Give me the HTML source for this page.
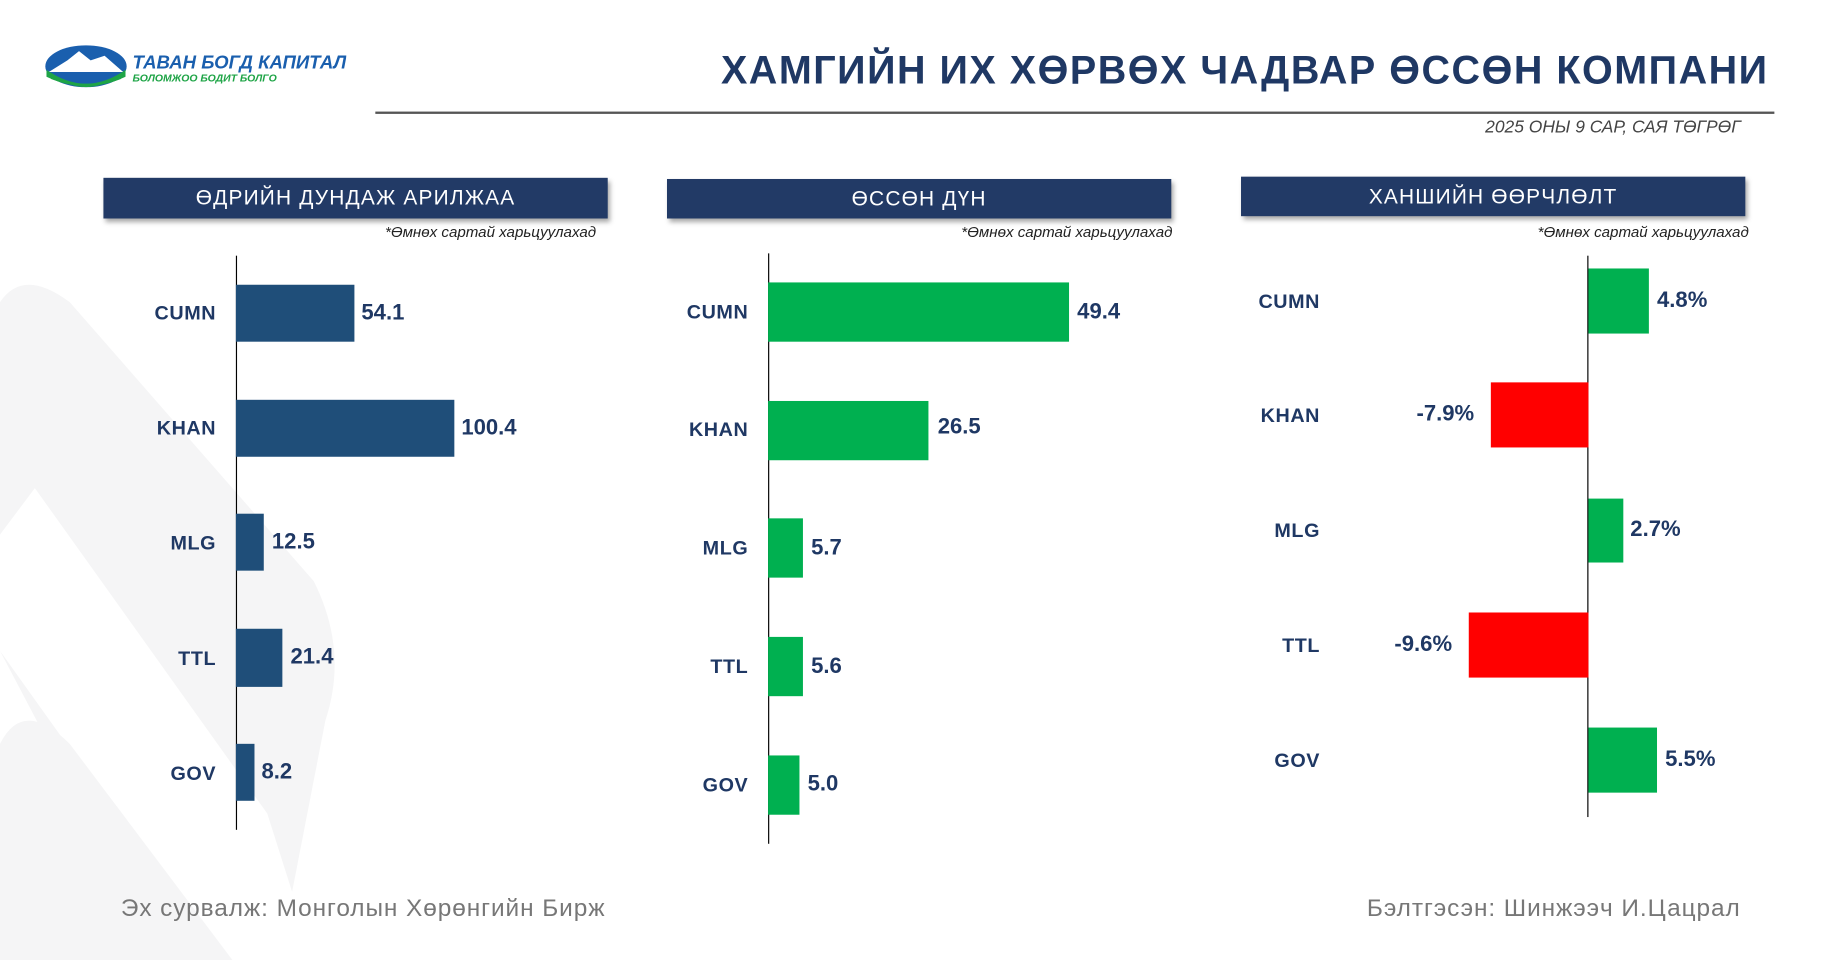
<!DOCTYPE html>
<html><head><meta charset="utf-8"><style>
html,body{margin:0;padding:0;width:1822px;height:960px;overflow:hidden;background:#fff}
#s{position:absolute;left:0;top:0;width:1568px;height:826px;transform:scale(1.1620,1.16223);transform-origin:0 0;font-family:"Liberation Sans","DejaVu Sans",sans-serif}
.a{position:absolute}
.hdr{position:absolute;background:#223a66;color:#fff;font-size:18px;text-align:center;box-shadow:2px 3px 4px rgba(0,0,0,.35);letter-spacing:1px}
.fn{position:absolute;font-size:13px;font-style:italic;color:#222;text-align:right;width:300px}
.lab{position:absolute;font-size:17px;font-weight:bold;color:#1f3864;text-align:right;width:100px;letter-spacing:.5px}
.val{position:absolute;font-size:19px;font-weight:bold;color:#1f3864}
.ax{position:absolute;width:1px;background:#000}
.b{position:absolute;background:#1f4e79}
.g{position:absolute;background:#00b050}
.r{position:absolute;background:#ff0000}
</style></head><body><div id="s">
<svg class="a" style="left:0;top:0" width="1568" height="826">
<path d="M0 260 Q20 230 60 260 L270 500 Q300 560 280 620 L240 826 L140 826 L0 560Z" fill="#f5f5f6"/>
<path d="M0 460 L30 420 L230 700 L270 826 L190 826 L0 560Z" fill="#fff"/>
<path d="M0 640 Q20 600 60 640 L200 826 L0 826Z" fill="#f5f5f6"/>
</svg>
<svg class="a" style="left:38px;top:38px" width="260" height="40">
<ellipse cx="36" cy="19" rx="35" ry="18" fill="#1a5fae"/>
<path d="M3 24 Q36 50 69 24 L66 30 Q36 42 6 30Z" fill="#1ea446"/>
<path d="M2 22 Q36 46 70 22 L70 28 Q36 44 2 28Z" fill="#1ea446"/>
<path d="M4 24 L20 14 L30 6 L40 14 L52 10 L68 24Z" fill="#fff"/>
<text x="76" y="21" font-size="16" font-weight="bold" font-style="italic" fill="#1a5fae" font-family="Liberation Sans">ТАВАН БОГД КАПИТАЛ</text>
<text x="76" y="32" font-size="9" font-weight="bold" font-style="italic" fill="#1ea446" font-family="Liberation Sans">БОЛОМЖОО БОДИТ БОЛГО</text>
</svg>
<div class="a" style="right:46px;top:42px;font-size:34px;font-weight:bold;color:#1f3864;letter-spacing:1.3px;white-space:nowrap">ХАМГИЙН ИХ ХӨРВӨХ ЧАДВАР ӨССӨН КОМПАНИ</div>
<div class="a" style="left:323px;top:96px;width:1204px;height:2px;background:#555"></div>
<div class="a" style="right:70px;top:101px;font-size:15px;font-style:italic;color:#444">2025 ОНЫ 9 САР, САЯ ТӨГРӨГ</div>

<div class="hdr" style="left:89px;top:153px;width:434px;height:35px;line-height:35px">ӨДРИЙН ДУНДАЖ АРИЛЖАА</div>
<div class="hdr" style="left:574px;top:154px;width:434px;height:34px;line-height:34px">ӨССӨН ДҮН</div>
<div class="hdr" style="left:1068px;top:152px;width:434px;height:34px;line-height:34px">ХАНШИЙН ӨӨРЧЛӨЛТ</div>
<div class="fn" style="left:213px;top:192px">*Өмнөх сартай харьцуулахад</div>
<div class="fn" style="left:709px;top:192px">*Өмнөх сартай харьцуулахад</div>
<div class="fn" style="left:1205px;top:192px">*Өмнөх сартай харьцуулахад</div>

<!-- chart1 -->
<div class="ax" style="left:203px;top:220px;height:494px"></div>
<div class="b" style="left:203px;top:245px;width:102px;height:49px"></div>
<div class="b" style="left:203px;top:344px;width:188px;height:49px"></div>
<div class="b" style="left:203px;top:442px;width:24px;height:49px"></div>
<div class="b" style="left:203px;top:541px;width:40px;height:50px"></div>
<div class="b" style="left:203px;top:640px;width:16px;height:49px"></div>
<div class="lab" style="left:86px;top:260px">CUMN</div>
<div class="lab" style="left:86px;top:359px">KHAN</div>
<div class="lab" style="left:86px;top:458px">MLG</div>
<div class="lab" style="left:86px;top:557px">TTL</div>
<div class="lab" style="left:86px;top:656px">GOV</div>
<div class="val" style="left:311px;top:259px">54.1</div>
<div class="val" style="left:397px;top:358px">100.4</div>
<div class="val" style="left:234px;top:456px">12.5</div>
<div class="val" style="left:250px;top:555px">21.4</div>
<div class="val" style="left:225px;top:654px">8.2</div>

<!-- chart2 -->
<div class="ax" style="left:661px;top:218px;height:508px"></div>
<div class="g" style="left:661px;top:243px;width:259px;height:51px"></div>
<div class="g" style="left:661px;top:345px;width:138px;height:51px"></div>
<div class="g" style="left:661px;top:446px;width:30px;height:51px"></div>
<div class="g" style="left:661px;top:548px;width:30px;height:51px"></div>
<div class="g" style="left:661px;top:650px;width:27px;height:51px"></div>
<div class="lab" style="left:544px;top:259px">CUMN</div>
<div class="lab" style="left:544px;top:360px">KHAN</div>
<div class="lab" style="left:544px;top:462px">MLG</div>
<div class="lab" style="left:544px;top:564px">TTL</div>
<div class="lab" style="left:544px;top:666px">GOV</div>
<div class="val" style="left:927px;top:258px">49.4</div>
<div class="val" style="left:807px;top:357px">26.5</div>
<div class="val" style="left:698px;top:461px">5.7</div>
<div class="val" style="left:698px;top:563px">5.6</div>
<div class="val" style="left:695px;top:664px">5.0</div>

<!-- chart3 -->
<div class="ax" style="left:1366px;top:220px;height:483px"></div>
<div class="g" style="left:1367px;top:231px;width:52px;height:56px"></div>
<div class="r" style="left:1283px;top:329px;width:84px;height:56px"></div>
<div class="g" style="left:1367px;top:429px;width:30px;height:55px"></div>
<div class="r" style="left:1264px;top:527px;width:103px;height:56px"></div>
<div class="g" style="left:1367px;top:626px;width:59px;height:56px"></div>
<div class="lab" style="left:1036px;top:250px">CUMN</div>
<div class="lab" style="left:1036px;top:348px">KHAN</div>
<div class="lab" style="left:1036px;top:447px">MLG</div>
<div class="lab" style="left:1036px;top:546px">TTL</div>
<div class="lab" style="left:1036px;top:645px">GOV</div>
<div class="val" style="left:1426px;top:248px">4.8%</div>
<div class="val" style="left:1219px;top:346px">-7.9%</div>
<div class="val" style="left:1403px;top:445px">2.7%</div>
<div class="val" style="left:1200px;top:544px">-9.6%</div>
<div class="val" style="left:1433px;top:643px">5.5%</div>

<div class="a" style="left:104px;top:770px;font-size:21px;color:#777;letter-spacing:.8px">Эх сурвалж: Монголын Хөрөнгийн Бирж</div>
<div class="a" style="right:70px;top:770px;font-size:21px;color:#777;letter-spacing:.8px">Бэлтгэсэн: Шинжээч И.Цацрал</div>
</div></body></html>
